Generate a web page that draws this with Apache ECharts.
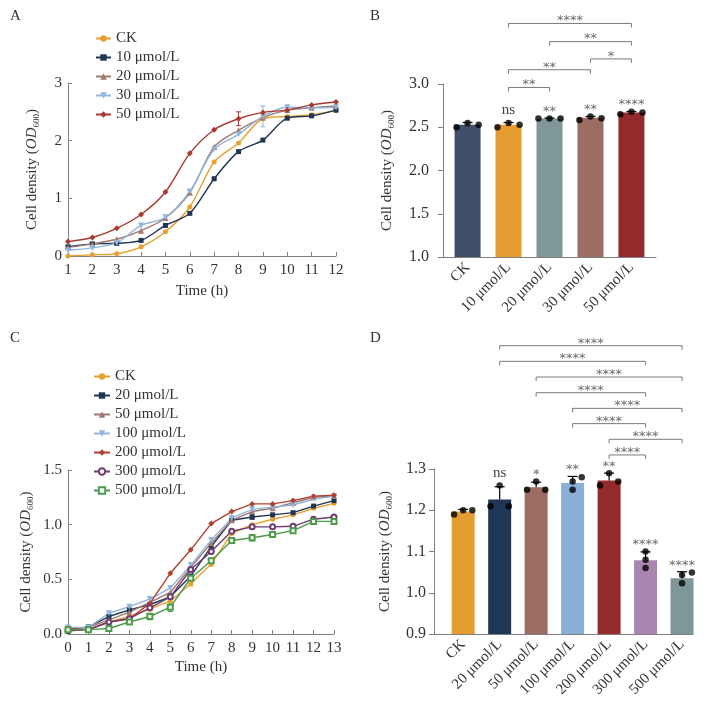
<!DOCTYPE html>
<html><head><meta charset="utf-8">
<script src="https://cdn.jsdelivr.net/npm/echarts@6/dist/echarts.min.js"></script>
<style>html,body{margin:0;padding:0;background:#fff}#c{width:713px;height:701px}</style>
</head><body><div id="c"></div>
<script>
const FONT = 'Liberation Serif';
const AST_FONT = 'DejaVu Sans';
// ---------- Panel A ----------
const timeA = [1,2,3,4,5,6,7,8,9,10,11,12];
const namesA = ['CK','10 μmol/L','20 μmol/L','30 μmol/L','50 μmol/L'];
const a_CK = [0.00,0.02,0.04,0.16,0.42,0.85,1.63,1.96,2.38,2.42,2.45,2.52];
const a_10 = [0.16,0.21,0.22,0.27,0.53,0.74,1.34,1.81,2.01,2.39,2.43,2.53];
const a_20 = [0.15,0.21,0.29,0.44,0.66,1.10,1.89,2.18,2.40,2.53,2.57,2.60];
const a_30 = [0.10,0.14,0.23,0.53,0.67,1.12,1.85,2.11,2.42,2.58,2.57,2.58];
const a_50 = [0.25,0.32,0.48,0.72,1.11,1.78,2.19,2.38,2.49,2.53,2.62,2.67];
const errA_20 = [0,0,0,0,0,0.04,0,0,0,0,0,0];
const errA_30 = [0,0,0,0,0,0,0,0,0.18,0,0,0];
const errA_50 = [0,0,0,0,0,0,0,0.12,0,0,0,0];
// ---------- Panel B ----------
const catB = ['CK','10 μmol/L','20 μmol/L','30 μmol/L','50 μmol/L'];
const meanB = [2.53,2.53,2.60,2.61,2.67];
const sdB = [0.025,0.025,0.006,0.015,0.012];
const dotB_1 = [2.50,2.50,2.60,2.585,2.65];
const dotB_2 = [2.55,2.55,2.60,2.625,2.68];
const dotB_3 = [2.53,2.53,2.60,2.605,2.67];
const dotOffB = [-0.27,0,0.27];
const sigB = ['','ns','**','**','****'];
const brB_from = [1,2,3,1,1];
const brB_to = [4,4,4,3,2];
const brB_y = [3.70,3.49,3.29,3.165,2.96];
const brB_txt = ['****','**','*','**','**'];
const colB = ['#3f4f68','#e59c31','#7e9799','#9c6d62','#932a2b'];
// ---------- Panel C ----------
const timeC = [0,1,2,3,4,5,6,7,8,9,10,11,12,13];
const namesC = ['CK','20 μmol/L','50 μmol/L','100 μmol/L','200 μmol/L','300 μmol/L','500 μmol/L'];
const c_CK  = [0.03,0.04,0.11,0.16,0.23,0.30,0.46,0.64,0.92,1.00,1.05,1.09,1.15,1.195];
const c_20  = [0.04,0.065,0.16,0.22,0.27,0.34,0.53,0.80,1.04,1.07,1.09,1.11,1.17,1.22];
const c_50  = [0.05,0.06,0.13,0.20,0.29,0.38,0.61,0.83,1.04,1.12,1.15,1.20,1.25,1.265];
const c_100 = [0.06,0.06,0.19,0.25,0.32,0.42,0.63,0.86,1.06,1.14,1.16,1.18,1.235,1.26];
const c_200 = [0.05,0.04,0.11,0.14,0.28,0.555,0.77,1.01,1.12,1.19,1.19,1.22,1.26,1.27];
const c_300 = [0.03,0.04,0.11,0.14,0.24,0.34,0.59,0.755,0.94,0.98,0.98,0.985,1.05,1.07];
const c_500 = [0.04,0.04,0.05,0.11,0.16,0.245,0.51,0.67,0.855,0.88,0.91,0.945,1.03,1.03];
const errC_CK  = [0,0,0,0,0.02,0,0.02,0.02,0,0,0,0,0,0];
const errC_20  = [0,0.015,0,0,0,0,0,0,0,0.02,0,0,0,0];
const errC_300 = [0,0,0,0,0,0,0,0,0,0.02,0.015,0,0,0];
const errC_500 = [0.03,0.02,0.02,0,0.03,0.04,0.02,0.02,0.02,0.03,0.025,0.01,0.01,0];
// ---------- Panel D ----------
const catD = ['CK','20 μmol/L','50 μmol/L','100 μmol/L','200 μmol/L','300 μmol/L','500 μmol/L'];
const meanD = [1.197,1.226,1.256,1.266,1.272,1.079,1.035];
const sdD = [0.005,0.031,0.012,0.016,0.018,0.020,0.016];
const dotD_x1 = [-0.25,-0.25,-0.25,0,-0.25,0,0];
const dotD_y1 = [1.19,1.21,1.25,1.25,1.26,1.10,1.043];
const dotD_x2 = [0,0,0,0,0,0,0];
const dotD_y2 = [1.20,1.26,1.27,1.27,1.29,1.08,1.023];
const dotD_x3 = [0.25,0.25,0.25,0.25,0.25,0,0.27];
const dotD_y3 = [1.20,1.21,1.25,1.28,1.27,1.06,1.049];
const sigD = ['','ns','*','**','**','****','****'];
const brD_from = [1,1,2,2,3,3,4,4];
const brD_to = [6,5,6,5,6,5,6,5];
const brD_y = [1.599,1.561,1.523,1.485,1.447,1.410,1.372,1.334];
const brD_txt = ['****','****','****','****','****','****','****','****'];
const colD = ['#e59c31','#1f3757','#9c6d62','#8bb0d8','#932a2b','#a886b0','#7e9799'];

const AX = '#808080', TXT = '#333';
const chart = echarts.init(document.getElementById('c'));

const nameStyle = {
  fontFamily: FONT, fontSize: 15, color: TXT,
  rich: {
    t: {fontFamily: FONT, fontSize: 15, color: TXT, lineHeight: 18},
    i: {fontFamily: FONT, fontSize: 15, color: TXT, fontStyle: 'italic', lineHeight: 18},
    s: {fontFamily: FONT, fontSize: 9, color: TXT, lineHeight: 10, verticalAlign: 'bottom'}
  }
};
const yName = '{t|Cell density (}{i|OD}{s|600}{t|)}';
const lblStyle = (fs) => ({fontFamily: FONT, fontSize: fs, color: TXT});

function lineSer(prefix, name, xs, ys, color, symbol, opt, xi) {
  return Object.assign({
    type: 'line', name: prefix + name, xAxisIndex: xi, yAxisIndex: xi,
    data: xs.map((x, i) => [x, ys[i]]),
    symbol: symbol, symbolSize: 5, showSymbol: true,
    itemStyle: {color: color, borderWidth: 1}, lineStyle: {color: color, width: 1.4},
    z: 4
  }, opt || {});
}
function lineErr(xi, xs, ys, es, color) {
  const data = [];
  xs.forEach((x, i) => { if (es[i] > 0) data.push([x, ys[i], es[i]]); });
  return {type: 'custom', xAxisIndex: xi, yAxisIndex: xi, silent: true, clip: false, z: 3, data: data,
    renderItem: (p, api) => {
      const x = api.value(0), y = api.value(1), e = api.value(2);
      const a = api.coord([x, y + e]), b = api.coord([x, y - e]);
      const st = {stroke: color, lineWidth: 1};
      return {type: 'group', children: [
        {type: 'line', shape: {x1: a[0], y1: a[1], x2: b[0], y2: b[1]}, style: st},
        {type: 'line', shape: {x1: a[0] - 2.5, y1: a[1], x2: a[0] + 2.5, y2: a[1]}, style: st},
        {type: 'line', shape: {x1: b[0] - 2.5, y1: b[1], x2: b[0] + 2.5, y2: b[1]}, style: st}
      ]};
    }};
}
function barErr(xi, means, sds) {
  return {type: 'custom', xAxisIndex: xi, yAxisIndex: xi, silent: true, clip: false, z: 5,
    data: means.map((m, i) => [i, m, sds[i]]),
    renderItem: (p, api) => {
      const i = api.value(0), m = api.value(1), s = api.value(2);
      const a = api.coord([i, m]), b = api.coord([i, m + s]);
      const st = {stroke: '#000', lineWidth: 1.2};
      return {type: 'group', children: [
        {type: 'line', shape: {x1: a[0], y1: a[1], x2: b[0], y2: b[1]}, style: st},
        {type: 'line', shape: {x1: b[0] - 5, y1: b[1], x2: b[0] + 5, y2: b[1]}, style: st}
      ]};
    }};
}
function sigSer(xi, tops, texts) {
  return {type: 'custom', xAxisIndex: xi, yAxisIndex: xi, silent: true, clip: false, z: 6,
    data: tops.map((t, i) => [i, t]),
    renderItem: (p, api) => {
      const c = api.coord([api.value(0), api.value(1)]);
      const t = texts[p.dataIndex];
      const isAst = t.indexOf('*') >= 0;
      return {type: 'text', style: {text: t, x: c[0], y: c[1] - (isAst ? 0 : 5), align: 'center', verticalAlign: 'bottom',
        fill: isAst ? '#6a6a6a' : '#444', fontSize: isAst ? 13 : 15, fontFamily: isAst ? AST_FONT : FONT}};
    }};
}
function bracketSer(xi, from, to, ys, texts) {
  return {type: 'custom', xAxisIndex: xi, yAxisIndex: xi, silent: true, clip: false, z: 6,
    data: from.map((f, i) => [f, ys[i], to[i]]),
    renderItem: (p, api) => {
      const p1 = api.coord([api.value(0), api.value(1)]);
      const p2 = api.coord([api.value(2), api.value(1)]);
      return {type: 'group', children: [
        {type: 'polyline', shape: {points: [[p1[0], p1[1] + 4], [p1[0], p1[1]], [p2[0], p2[1]], [p2[0], p2[1] + 4]]},
          style: {stroke: '#7a7a7a', lineWidth: 1, fill: null}},
        {type: 'text', style: {text: texts[p.dataIndex], x: (p1[0] + p2[0]) / 2, y: p1[1] + 4, align: 'center',
          verticalAlign: 'bottom', fill: '#6a6a6a', fontSize: 13, fontFamily: AST_FONT}}
      ]};
    }};
}
function dots(xi, offsX, vals) {
  const data = [];
  vals.forEach((arr, k) => arr.forEach((v, i) => data.push([i + (Array.isArray(offsX[k]) ? offsX[k][i] : offsX[k]), v])));
  return {type: 'scatter', xAxisIndex: xi, yAxisIndex: xi, data: data, symbol: 'circle', symbolSize: 6.5,
    itemStyle: {color: '#000'}, z: 7, silent: true};
}
function bars(xi, means, cols, w) {
  return {type: 'bar', xAxisIndex: xi, yAxisIndex: xi, barWidth: w, z: 2, silent: true,
    data: means.map((m, i) => ({value: [i, m], itemStyle: {color: cols[i]}}))};
}
const topsB = meanB.map((m, i) => Math.max(m + sdB[i], dotB_1[i], dotB_2[i], dotB_3[i]));
const topsD = meanD.map((m, i) => Math.max(m + sdD[i], dotD_y1[i], dotD_y2[i], dotD_y3[i]));

const lineAxisX = (gi, min, max, gap) => ({
  gridIndex: gi, type: 'value', min: min, max: max, interval: 1,
  name: 'Time (h)', nameLocation: 'middle', nameGap: gap, nameTextStyle: lblStyle(15),
  axisLine: {show: true, onZero: false, lineStyle: {color: AX}}, axisTick: {show: true, inside: true, length: 4, lineStyle: {color: AX}},
  axisLabel: Object.assign({margin: 7}, lblStyle(15)), splitLine: {show: false}
});
const barAxisX = (gi, min, max, cats) => ({
  gridIndex: gi, type: 'value', min: min, max: max,
  axisLine: {show: true, onZero: false, lineStyle: {color: AX}}, axisTick: {show: false}, splitLine: {show: false},
  axisLabel: Object.assign({customValues: cats.map((c, i) => i), rotate: 45, margin: 8,
    formatter: v => (Math.abs(v - Math.round(v)) < 1e-6 && cats[Math.round(v)]) ? cats[Math.round(v)] : ''}, lblStyle(15))
});
const yAx = (gi, min, max, iv, dec, inside, margin, gap) => ({
  gridIndex: gi, type: 'value', min: min, max: max, interval: iv,
  name: yName, nameLocation: 'middle', nameRotate: 90, nameGap: gap, nameTextStyle: nameStyle,
  axisLine: {show: true, onZero: false, lineStyle: {color: AX}}, axisTick: {show: true, inside: inside, length: inside ? 4 : 5, lineStyle: {color: AX}},
  axisLabel: Object.assign({margin: margin, formatter: v => v.toFixed(dec)}, lblStyle(gi % 2 ? 16 : 15)),
  splitLine: {show: false}
});
const ttl = (t, l, tp) => ({text: t, left: l, top: tp, padding: 0, textStyle: {fontFamily: FONT, fontSize: 15, fontWeight: 'normal', color: TXT}});

const option = {
  animation: false,
  backgroundColor: '#fff',
  title: [ttl('A', 10, 9), ttl('B', 370, 9), ttl('C', 10, 331), ttl('D', 370, 331)],
  legend: [
    {data: namesA.map(n => 'A:' + n), orient: 'vertical', left: 90, top: 26, itemWidth: 15, itemHeight: 8, itemGap: 4,
      selectedMode: false, formatter: n => n.slice(2), textStyle: lblStyle(15)},
    {data: namesC.map(n => 'C:' + n), orient: 'vertical', left: 88, top: 364, itemWidth: 16, itemHeight: 8, itemGap: 4,
      selectedMode: false, formatter: n => n.slice(2), textStyle: lblStyle(15)}
  ],
  grid: [
    {left: 68, top: 83, width: 268, height: 173},
    {left: 443, top: 84, width: 213, height: 173},
    {left: 68, top: 470, width: 266, height: 164},
    {left: 434, top: 469, width: 259, height: 165}
  ],
  xAxis: [
    lineAxisX(0, 1, 12, 28),
    barAxisX(1, -0.6, 4.6, catB),
    lineAxisX(2, 0, 13, 26),
    barAxisX(3, -0.8, 6.3, catD)
  ],
  yAxis: [
    yAx(0, 0, 3, 1, 0, true, 6, 27),
    yAx(1, 1.0, 3.0, 0.5, 1, false, 14, 47),
    yAx(2, 0, 1.5, 0.5, 1, true, 6, 33),
    yAx(3, 0.9, 1.3, 0.1, 1, false, 8, 40)
  ],
  series: [
    lineSer('A:', namesA[0], timeA, a_CK, '#e9a031', 'circle', {smooth: 0.3}, 0),
    lineSer('A:', namesA[1], timeA, a_10, '#1f3552', 'rect', {smooth: 0.3}, 0),
    lineSer('A:', namesA[2], timeA, a_20, '#a07870', 'triangle', {smooth: 0.3, symbolSize: 6}, 0),
    lineSer('A:', namesA[3], timeA, a_30, '#92b5dd', 'triangle', {smooth: 0.3, symbolSize: 6, symbolRotate: 180}, 0),
    lineSer('A:', namesA[4], timeA, a_50, '#a83a30', 'diamond', {smooth: 0.3, symbolSize: 6}, 0),
    lineErr(0, timeA, a_20, errA_20, '#a07870'),
    lineErr(0, timeA, a_30, errA_30, '#92b5dd'),
    lineErr(0, timeA, a_50, errA_50, '#a83a30'),

    bars(1, meanB, colB, 26),
    barErr(1, meanB, sdB),
    dots(1, dotOffB, [dotB_1, dotB_2, dotB_3]),
    sigSer(1, topsB, sigB),
    bracketSer(1, brB_from, brB_to, brB_y, brB_txt),

    lineSer('C:', namesC[0], timeC, c_CK, '#e9a031', 'circle', null, 2),
    lineSer('C:', namesC[1], timeC, c_20, '#1f3552', 'rect', null, 2),
    lineSer('C:', namesC[2], timeC, c_50, '#a07870', 'triangle', {symbolSize: 6}, 2),
    lineSer('C:', namesC[3], timeC, c_100, '#92b5dd', 'triangle', {symbolSize: 6, symbolRotate: 180}, 2),
    lineSer('C:', namesC[4], timeC, c_200, '#b04030', 'diamond', {symbolSize: 6}, 2),
    lineSer('C:', namesC[5], timeC, c_300, '#6e3a70', 'emptyCircle', {symbolSize: 5}, 2),
    lineSer('C:', namesC[6], timeC, c_500, '#4c9c4c', 'emptyRect', {symbolSize: 5}, 2),
    lineErr(2, timeC, c_CK, errC_CK, '#e9a031'),
    lineErr(2, timeC, c_20, errC_20, '#1f3552'),
    lineErr(2, timeC, c_300, errC_300, '#6e3a70'),
    lineErr(2, timeC, c_500, errC_500, '#4c9c4c'),

    bars(3, meanD, colD, 23),
    barErr(3, meanD, sdD),
    dots(3, [dotD_x1, dotD_x2, dotD_x3], [dotD_y1, dotD_y2, dotD_y3]),
    sigSer(3, topsD, sigD),
    bracketSer(3, brD_from, brD_to, brD_y, brD_txt)
  ]
};
chart.setOption(option);
</script></body></html>
